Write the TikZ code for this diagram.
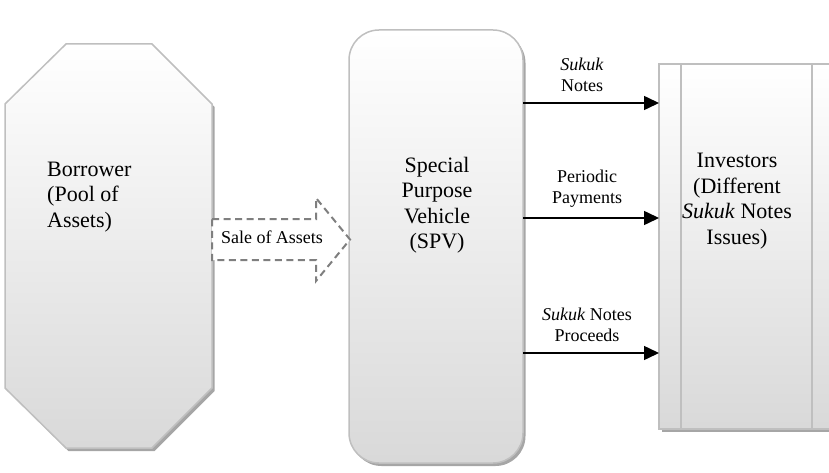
\documentclass[tikz,border=0pt]{standalone}
\usepackage{fontspec}
\setmainfont{Liberation Serif}
\usetikzlibrary{arrows.meta,shadows,calc}

\definecolor{boxline}{HTML}{BFBFBF}
\definecolor{shadowgray}{HTML}{A6A6A6}
\definecolor{dashgray}{HTML}{7F7F7F}

\tikzset{
  panel/.style={draw=boxline, line width=1.5pt, top color=white, bottom color=black!15,
    outer sep=0pt, inner sep=0pt},
  panelshadow/.style={drop shadow={shadow xshift=2.5pt, shadow yshift=-3pt,
    fill=shadowgray, opacity=1}},
  bigtext/.style={font=\fontsize{22}{25.5}\selectfont, inner sep=0pt},
  smalltext/.style={font=\fontsize{18}{21}\selectfont, align=center, inner sep=0pt},
  flow/.style={line width=1.5pt, -{Triangle[length=15pt,width=14pt]}},
  saleflow/.style={draw=dashgray, line width=2pt, dash pattern=on 7pt off 4.5pt, fill=white},
}

\begin{document}
\begin{tikzpicture}[x=1pt,y=-1pt]
\useasboundingbox (0,0) rectangle (829,473);
\clip (0,0) rectangle (829,473);

% Borrower: elongated octagon with shadow
\fill[shadowgray] ([shift={(2.5,3)}]66,44) -- ++(86,0) -- ++(60,60) -- ++(0,284)
  -- ++(-60,60) -- ++(-86,0) -- ++(-61,-60) -- ++(0,-284) -- cycle;
\path[draw=boxline, line width=1.5pt, top color=white, bottom color=black!15]
  (66,44) -- (152,44) -- (212,104) -- (212,388) -- (152,448) -- (66,448)
  -- (5,388) -- (5,104) -- cycle;
\coordinate (borrowerE) at (212,239.5);
\node[bigtext, align=left, anchor=west] (borrower) at (47,197)
  {Borrower\\(Pool of\\Assets)};

% Special purpose vehicle
\node[panel, panelshadow, rounded corners=30pt, minimum width=174pt, minimum height=433pt]
  (spv) at (436,246.5) {};
\node[bigtext, align=center] (spvtext) at (437,205)
  {Special\\Purpose\\Vehicle\\(SPV)};

% Investors: column box running off the right edge
\node[panel, panelshadow, minimum width=186pt, minimum height=365pt, anchor=north west]
  (inv) at (659,64) {};
\draw[boxline, line width=2pt] (681,64) -- (681,429);
\draw[boxline, line width=2pt] (812,64) -- (812,429);
\node[bigtext, align=center] (invtext) at (737,201)
  {Investors\\(Different\\\textit{Sukuk} Notes\\Issues)};

% Dashed block arrow: sale of assets
\path[saleflow] (borrowerE |- 0,219) -- (316,219) -- (316,198) -- (350,239.5)
  -- (316,281) -- (316,260) -- (borrowerE |- 0,260) -- cycle;
\node[smalltext] (sale) at (272,237) {Sale of Assets};

% Flows from SPV to investors
\coordinate (r1) at (0,103);
\coordinate (r2) at (0,218);
\coordinate (r3) at (0,353);
\draw[flow] (spv.east |- r1) -- (inv.west |- r1);
\draw[flow] (spv.east |- r2) -- (inv.west |- r2);
\draw[flow] (spv.east |- r3) -- (inv.west |- r3);

\node[smalltext] (lab1) at (582,74.5) {\textit{Sukuk}\\Notes};
\node[smalltext] (lab2) at (587,189) {Periodic\\Payments};
\node[smalltext] (lab3) at (587,325) {\textit{Sukuk} Notes\\Proceeds};
\end{tikzpicture}
\end{document}
